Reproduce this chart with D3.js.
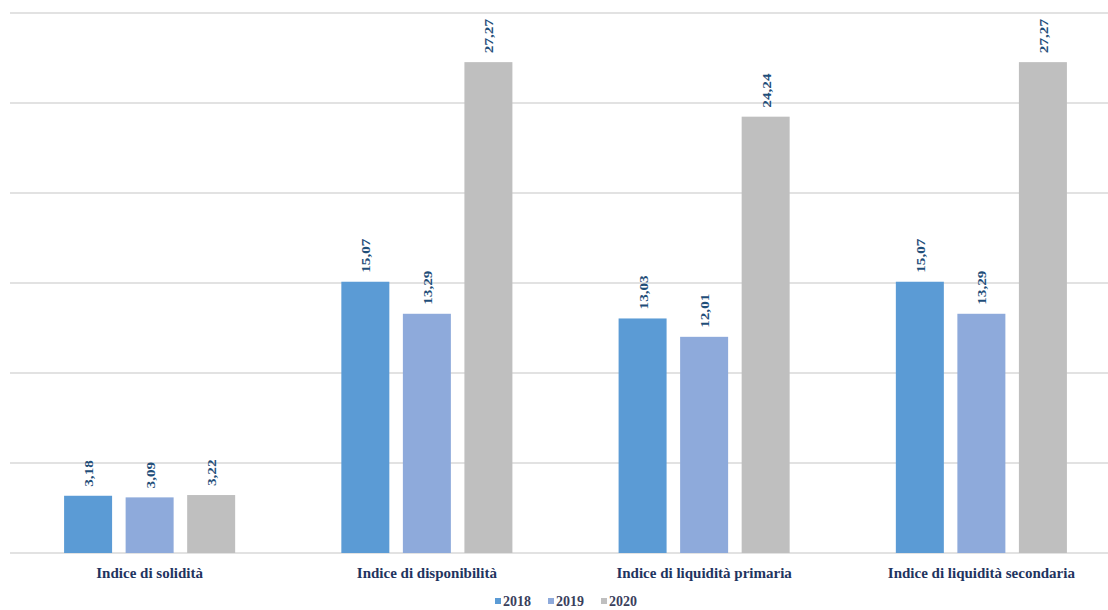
<!DOCTYPE html>
<html><head><meta charset="utf-8">
<script src="https://cdn.jsdelivr.net/npm/d3@7"></script>
<style>body{margin:0;background:#fff}svg{display:block}</style>
</head><body>
<svg id="c" width="1108" height="610"></svg>
<script>
const categories = ["Indice di solidità","Indice di disponibilità","Indice di liquidità primaria","Indice di liquidità secondaria"];
const years = ["2018","2019","2020"];
const v2018 = [3.18, 15.07, 13.03, 15.07];
const v2019 = [3.09, 13.29, 12.01, 13.29];
const v2020 = [3.22, 27.27, 24.24, 27.27];
const yTicks = [0,5,10,15,20,25,30];
const colors = ["#5b9bd5","#8eaadb","#bfbfbf"];

const series = [v2018, v2019, v2020];
const svg = d3.select("#c");
const y = d3.scaleLinear().domain([0,30]).range([553,13]);
const x0 = d3.scaleBand().domain(categories).range([11,1120]).paddingInner(0.383).paddingOuter(0.1915);
const x1 = d3.scaleBand().domain(years).range([0, x0.bandwidth()]).paddingInner(0.22);

svg.append("g").selectAll("line").data(yTicks).join("line")
  .attr("x1",10).attr("x2",1108).attr("y1",d=>y(d)).attr("y2",d=>y(d))
  .attr("stroke","#d9d9d9").attr("stroke-width",1.5);

const fmt = v => d3.format(".2f")(v).replace(".",",");
const g = svg.append("g").selectAll("g").data(categories).join("g")
  .attr("transform",d=>`translate(${x0(d)},0)`);
years.forEach((yr,i)=>{
  g.append("rect").attr("x",x1(yr)).attr("width",x1.bandwidth())
   .attr("y",(d,j)=>y(series[i][j])).attr("height",(d,j)=>y(0)-y(series[i][j]))
   .attr("fill",colors[i]);
  g.append("text")
   .attr("transform",(d,j)=>`translate(${x1(yr)+x1.bandwidth()/2+5},${y(series[i][j])-9}) rotate(-90) scale(1.17,1)`)
   .attr("font-family","Liberation Serif, serif").attr("font-weight","bold").attr("font-size",13)
   .attr("fill","#1f4e79").text((d,j)=>fmt(series[i][j]));
});

svg.append("g").selectAll("text").data(categories).join("text")
  .attr("transform",d=>`translate(${x0(d)+x0.bandwidth()/2},578)`)
  .attr("text-anchor","middle").attr("font-family","Liberation Serif, serif")
  .attr("font-weight","bold").attr("font-size",15).attr("fill","#1f3460").text(d=>d);

const lg = svg.append("g").selectAll("g").data(years).join("g")
  .attr("transform",(d,i)=>`translate(${495+i*53},606)`);
lg.append("rect").attr("x",0).attr("y",-8).attr("width",6).attr("height",6).attr("fill",(d,i)=>colors[i]);
lg.append("text").attr("x",8).attr("font-family","Liberation Serif, serif").attr("font-weight","bold")
  .attr("font-size",14).attr("fill","#3a3f5c").text(d=>d);
</script>
</body></html>
